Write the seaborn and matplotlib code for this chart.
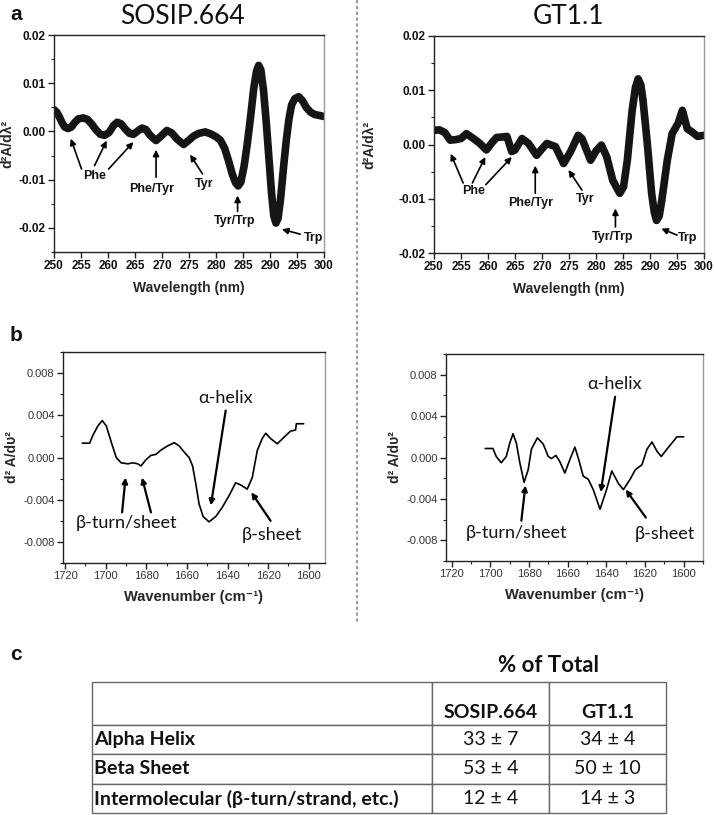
import numpy as np
import pandas as pd
import matplotlib
matplotlib.use("Agg")
import matplotlib.pyplot as plt
from matplotlib.ticker import MultipleLocator, FormatStrFormatter
import seaborn as sns

# ---------------- data ----------------
# (a) UV second-derivative spectra
sosip_uv_wl = [250.0, 250.5, 251.0, 251.5, 252.0, 252.6, 253.2, 253.8, 254.5, 255.4, 256.2, 257.0,
               257.8, 258.6, 259.4, 260.2, 261.0, 261.7, 262.4, 263.2, 264.0, 264.7, 265.4, 266.3,
               267.0, 267.8, 268.9, 269.8, 270.9, 271.8, 272.8, 274.0, 275.0, 275.8, 276.8, 278.0,
               279.0, 280.0, 280.8, 281.6, 282.3, 283.0, 283.6, 284.1, 284.6, 285.2, 285.8, 286.4,
               287.0, 287.5, 287.9, 288.3, 288.8, 289.3, 289.8, 290.3, 290.7, 291.1, 291.5, 292.0,
               292.5, 293.0, 293.5, 294.0, 294.6, 295.3, 296.0, 296.7, 297.5, 298.3, 299.2, 300.0]
sosip_uv_val = [0.0045, 0.0040, 0.0030, 0.0018, 0.0009, 0.0006, 0.0009, 0.0018, 0.0026, 0.0028, 0.0025, 0.0015,
                0.0003, -0.0006, -0.0008, -0.0002, 0.0012, 0.0019, 0.0016, 0.0005, -0.0004, -0.0006, 0.0000, 0.0007,
                0.0004, -0.0008, -0.0019, -0.0010, 0.0002, -0.0003, -0.0016, -0.0027, -0.0018, -0.0010, -0.0004, -0.0001,
                -0.0005, -0.0011, -0.0018, -0.0035, -0.0060, -0.0088, -0.0106, -0.0113, -0.0105, -0.0072, -0.0025, 0.0030,
                0.0090, 0.0125, 0.0137, 0.0128, 0.0085, 0.0020, -0.0055, -0.0130, -0.0175, -0.0190, -0.0180, -0.0135,
                -0.0075, -0.0020, 0.0025, 0.0055, 0.0068, 0.0072, 0.0064, 0.0050, 0.0040, 0.0035, 0.0033, 0.0031]

gt_uv_wl = [250.0, 251.0, 252.0, 253.0, 254.0, 255.0, 256.0, 257.3, 258.5, 259.7, 260.7, 261.6, 262.9,
            263.5, 264.4, 265.0, 266.3, 267.5, 269.0, 270.0, 270.9, 272.5, 274.0, 275.3, 276.7, 277.4,
            279.0, 280.0, 281.0, 282.0, 283.1, 284.4, 285.1, 285.8, 286.7, 287.3, 287.8, 288.3, 288.7,
            289.5, 290.3, 290.8, 291.2, 291.7, 292.2, 293.2, 294.1, 295.2, 296.0, 296.9, 297.8, 298.8, 300.0]
gt_uv_val = [0.0026, 0.0027, 0.0022, 0.0008, 0.0009, 0.0011, 0.0020, 0.0011, 0.0002, -0.0010, 0.0003, 0.0013, 0.0014,
             0.0015, -0.0013, -0.0010, 0.0011, 0.0002, -0.0020, -0.0008, 0.0002, -0.0004, -0.0035, -0.0013, 0.0017, 0.0011,
             -0.0029, -0.0012, -0.0001, -0.0023, -0.0066, -0.0090, -0.0078, -0.0029, 0.0063, 0.0105, 0.0121, 0.0110, 0.0082,
             0.0002, -0.0090, -0.0125, -0.0140, -0.0132, -0.0102, -0.0029, 0.0020, 0.0039, 0.0063, 0.0029, 0.0023, 0.0015, 0.0017]

# (b) FTIR second-derivative spectra
sosip_ir_wn = [1711.5, 1707.9, 1706.3, 1703.8, 1701.7, 1699.7, 1697.3, 1694.8, 1692.4, 1689.1, 1686.6, 1684.2,
               1682.6, 1680.1, 1677.7, 1675.2, 1672.8, 1669.5, 1666.2, 1663.8, 1661.3, 1658.9, 1657.2, 1655.6,
               1654.0, 1652.0, 1649.1, 1645.8, 1642.5, 1639.2, 1636.0, 1633.5, 1630.3, 1627.8, 1625.3, 1622.9,
               1621.2, 1618.8, 1615.5, 1612.3, 1609.0, 1606.5, 1606.1, 1602.5]
sosip_ir_val = [0.00136, 0.00136, 0.0021, 0.0030, 0.0035, 0.0030, 0.0015, 0.0000, -0.0005, -0.0006, -0.0005, -0.0006,
                -0.0008, -0.0002, 0.0002, 0.0003, 0.0007, 0.0011, 0.0014, 0.0011, 0.0005, 0.0000, -0.0008, -0.0025,
                -0.0044, -0.0056, -0.0061, -0.0056, -0.0047, -0.0036, -0.0024, -0.0026, -0.0030, -0.0019, 0.0007, 0.0018,
                0.0023, 0.0018, 0.0013, 0.0019, 0.0025, 0.0026, 0.0032, 0.0032]

gt_ir_wn = [1702.7, 1698.7, 1697.0, 1694.4, 1691.8, 1690.0, 1688.3, 1686.6, 1684.8, 1682.6, 1680.5, 1678.8,
            1675.7, 1672.7, 1670.1, 1668.4, 1666.1, 1664.1, 1661.5, 1658.9, 1656.3, 1654.3, 1652.0, 1649.4,
            1646.8, 1643.3, 1639.9, 1637.2, 1633.8, 1631.2, 1627.7, 1625.1, 1621.6, 1619.0, 1616.4, 1613.8,
            1611.6, 1608.7, 1605.2, 1603.5, 1600.0]
gt_ir_val = [0.00087, 0.00087, 0.0001, -0.0005, 0.0001, 0.0014, 0.0023, 0.0014, -0.0005, -0.0024, -0.0012, 0.0008,
             0.0019, 0.0013, 0.0001, -0.0001, 0.0002, -0.0004, -0.0015, -0.0002, 0.0010, -0.0002, -0.0018, -0.0021,
             -0.0031, -0.0050, -0.0031, -0.0013, -0.0025, -0.0031, -0.0021, -0.0012, -0.0007, 0.0008, 0.0015, 0.0006,
             0.0001, 0.0008, 0.0016, 0.0020, 0.0020]

# (c) table
table_cols = ["", "SOSIP.664", "GT1.1"]
table_rows = ["Alpha Helix", "Beta Sheet", "Intermolecular (\u03b2-turn/strand, etc.)"]
sosip_pct = ["33 \u00b1 7", "53 \u00b1 4", "12 \u00b1 4"]
gt_pct = ["34 \u00b1 4", "50 \u00b1 10", "14 \u00b1 3"]

# ---------------- style ----------------
sns.set_theme(style="ticks")
plt.rcParams["font.family"] = ["Liberation Sans", "DejaVu Sans"]
plt.rcParams["axes.unicode_minus"] = False
CAL = ["Lato", "DejaVu Sans"]

W, H = 714, 815
fig = plt.figure(figsize=(W / 100, H / 100), dpi=100)


def rect(x0, y0, x1, y1):
    return [x0 / W, 1 - y1 / H, (x1 - x0) / W, (y1 - y0) / H]


def style_axes(ax, bold):
    for s in ["left", "bottom", "top"]:
        ax.spines[s].set_color("#222222")
        ax.spines[s].set_linewidth(1.0)
    ax.spines["right"].set_color("#999999")
    ax.spines["right"].set_linewidth(1.0)
    ax.tick_params(which="major", direction="out", length=4, width=1, color="#222222",
                   labelsize=8.5 if bold else 8, pad=2)
    ax.tick_params(which="minor", direction="out", length=2, width=0.8, color="#222222")
    for lab in ax.get_xticklabels() + ax.get_yticklabels():
        lab.set_fontweight("bold" if bold else "normal")
        lab.set_color("#111111" if bold else "#333333")


def arrow(ax, tip, tail, lw=1.2, ms=9):
    ax.annotate("", xy=tip, xytext=tail,
                arrowprops=dict(arrowstyle="-|>", color="black", lw=lw, mutation_scale=ms,
                                shrinkA=0, shrinkB=0))


# ---------------- (a) UV panels ----------------
uv_specs = [
    (rect(54, 35, 324, 252), sosip_uv_wl, sosip_uv_val, (-0.025, 0.02), 3),
    (rect(434, 36, 704, 253), gt_uv_wl, gt_uv_val, (-0.02, 0.02), 16),
]
uv_axes = []
for r, wl, val, yl, lp in uv_specs:
    ax = fig.add_axes(r)
    df = pd.DataFrame({"wl": wl, "v": val})
    sns.lineplot(data=df, x="wl", y="v", ax=ax, color="#151515", linewidth=5.5,
                 solid_capstyle="round", solid_joinstyle="round")
    ax.set_xlim(250, 300)
    ax.set_ylim(*yl)
    ax.xaxis.set_major_locator(MultipleLocator(5))
    ax.yaxis.set_major_locator(MultipleLocator(0.01))
    ax.yaxis.set_minor_locator(MultipleLocator(0.005))
    ax.yaxis.set_major_formatter(FormatStrFormatter("%.2f"))
    ax.set_xlabel("Wavelength (nm)", fontsize=10, fontweight="bold", labelpad=6)
    ax.set_ylabel("d\u00b2A/d\u03bb\u00b2", fontsize=10, fontweight="bold", labelpad=lp)
    style_axes(ax, True)
    uv_axes.append(ax)

fig.text(183 / W, 1 - 17 / H, "SOSIP.664", family=CAL, fontsize=19, ha="center", va="center", color="#111111")
fig.text(568 / W, 1 - 17 / H, "GT1.1", family=CAL, fontsize=19, ha="center", va="center", color="#111111")

ann_kw = dict(fontsize=9, fontweight="bold", ha="center", va="center", color="#111111")
ax = uv_axes[0]
ax.text(257.6, -0.0093, "Phe", **ann_kw)
arrow(ax, (253.1, -0.0015), (255.1, -0.0078))
arrow(ax, (259.75, -0.0019), (257.5, -0.0071))
arrow(ax, (264.7, -0.0022), (260.1, -0.0078))
ax.text(268.1, -0.0119, "Phe/Tyr", **ann_kw)
arrow(ax, (268.9, -0.0038), (268.9, -0.0095))
ax.text(277.9, -0.0108, "Tyr", **ann_kw)
arrow(ax, (275.2, -0.0048), (277.5, -0.0088))
ax.text(283.5, -0.0185, "Tyr/Trp", **ann_kw)
arrow(ax, (284.0, -0.0133), (284.0, -0.0166))
ax.text(298.0, -0.0222, "Trp", **ann_kw)
arrow(ax, (292.2, -0.0203), (295.6, -0.0213))

ax = uv_axes[1]
ax.text(257.4, -0.0085, "Phe", **ann_kw)
arrow(ax, (253.1, -0.0017), (255.4, -0.0071))
arrow(ax, (259.5, -0.0023), (257.1, -0.0071))
arrow(ax, (264.4, -0.0023), (259.6, -0.0074))
ax.text(267.9, -0.0107, "Phe/Tyr", **ann_kw)
arrow(ax, (268.75, -0.0039), (268.75, -0.0090))
ax.text(278.0, -0.0101, "Tyr", **ann_kw)
arrow(ax, (274.9, -0.0047), (277.4, -0.0084))
ax.text(283.0, -0.0170, "Tyr/Trp", **ann_kw)
arrow(ax, (283.6, -0.0118), (283.6, -0.0152))
ax.text(296.9, -0.0173, "Trp", **ann_kw)
arrow(ax, (292.1, -0.0155), (295.0, -0.0167))

# ---------------- (b) FTIR panels ----------------
ir_specs = [
    (rect(63, 352, 325, 563), sosip_ir_wn, sosip_ir_val, (1721, 1592)),
    (rect(446, 354, 703, 561), gt_ir_wn, gt_ir_val, (1723, 1590)),
]
ir_axes = []
for r, wn, val, xl in ir_specs:
    ax = fig.add_axes(r)
    df = pd.DataFrame({"wn": wn, "v": val})
    sns.lineplot(data=df, x="wn", y="v", ax=ax, color="black", linewidth=1.2, sort=False)
    ax.set_xlim(*xl)
    ax.set_ylim(-0.01, 0.01)
    ax.set_xticks([1720, 1700, 1680, 1660, 1640, 1620, 1600])
    ax.xaxis.set_minor_locator(MultipleLocator(10))
    ax.yaxis.set_major_locator(MultipleLocator(0.004))
    ax.yaxis.set_minor_locator(MultipleLocator(0.002))
    ax.yaxis.set_major_formatter(FormatStrFormatter("%.3f"))
    ax.set_yticks([-0.008, -0.004, 0.0, 0.004, 0.008])
    ax.set_xlabel("Wavenumber (cm\u207b\u00b9)", fontsize=10.5, fontweight="bold", labelpad=6)
    ax.set_ylabel("d\u00b2 A/d\u03c5\u00b2", fontsize=10, fontweight="bold", labelpad=3)
    style_axes(ax, False)
    ir_axes.append(ax)

ir_kw = dict(family=CAL, fontsize=13, ha="center", va="center", color="#111111")
ax = ir_axes[0]
ax.text(1640.9, 0.00565, "\u03b1-helix", **ir_kw)
arrow(ax, (1648.2, -0.00454), (1640.9, 0.00445), lw=1.6, ms=8)
ax.text(1689.6, -0.0062, "\u03b2-turn/sheet", **ir_kw)
arrow(ax, (1690.2, -0.0019), (1691.9, -0.0052), lw=1.6, ms=8)
arrow(ax, (1682.1, -0.0019), (1677.7, -0.0052), lw=1.6, ms=8)
ax.text(1618.0, -0.0073, "\u03b2-sheet", **ir_kw)
arrow(ax, (1628.3, -0.0033), (1618.8, -0.0060), lw=1.6, ms=8)

ax = ir_axes[1]
ax.text(1635.8, 0.00706, "\u03b1-helix", **ir_kw)
arrow(ax, (1642.9, -0.00335), (1635.5, 0.00587), lw=1.6, ms=8)
ax.text(1686.6, -0.0073, "\u03b2-turn/sheet", **ir_kw)
arrow(ax, (1681.9, -0.0027), (1684.0, -0.0061), lw=1.6, ms=8)
ax.text(1609.5, -0.0074, "\u03b2-sheet", **ir_kw)
arrow(ax, (1630.0, -0.0031), (1619.6, -0.0058), lw=1.6, ms=8)

# ---------------- divider ----------------
fig.add_artist(plt.Line2D([357 / W, 357 / W], [1, 1 - 622 / H], transform=fig.transFigure,
                          color="#8a8a8a", lw=1.2, linestyle=(0, (2, 1.5))))

# panel letters
for x, y, s in [(10, 15, "a"), (10, 335, "b"), (10, 655, "c")]:
    fig.text(x / W, 1 - y / H, s, fontsize=15, fontweight="bold", ha="left", va="center", color="#111111")

# ---------------- (c) table ----------------
tax = fig.add_axes(rect(92, 682, 666, 813))
tax.axis("off")
cell_text = [list(table_cols[1:])] + [[a, b] for a, b in zip(sosip_pct, gt_pct)]
row_labels = [""] + table_rows
full = [[rl] + ct for rl, ct in zip(row_labels, cell_text)]
tbl = tax.table(cellText=full, bbox=[0, 0, 1, 1], cellLoc="center", edges="closed")
tbl.auto_set_font_size(False)
colw = [340, 117, 117]
rowh = [43, 29, 30, 29]
for (ri, ci), cell in tbl.get_celld().items():
    cell.set_width(colw[ci])
    cell.set_height(rowh[ri])
    cell.set_edgecolor("#666666")
    cell.set_linewidth(1.0)
    t = cell.get_text()
    t.set_family(CAL)
    t.set_fontsize(14)
    t.set_color("#111111")
    if ci == 0:
        t.set_fontweight("bold")
        t.set_horizontalalignment("left")
        cell.PAD = 0.005
    if ri == 0:
        t.set_fontweight("bold")
        t.set_verticalalignment("top")

fig.text(549 / W, 1 - 665 / H, "% of Total", family=CAL, fontsize=16, fontweight="bold",
         ha="center", va="center", color="#111111")

fig.savefig("out.png", dpi=100)
